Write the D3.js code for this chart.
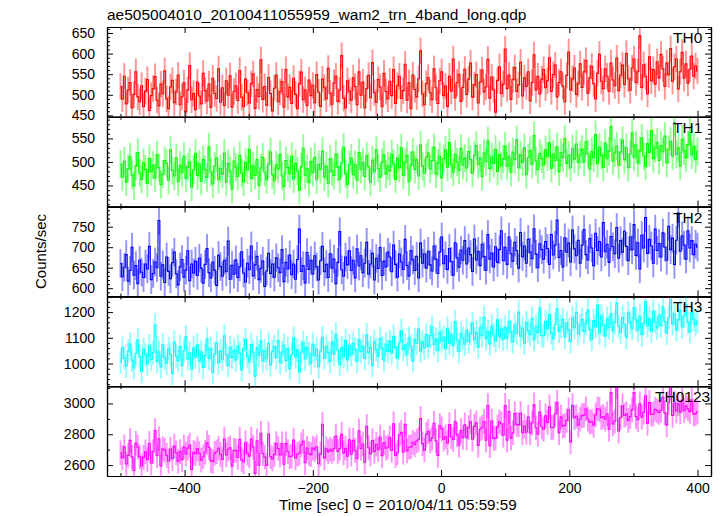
<!DOCTYPE html>
<html><head><meta charset="utf-8">
<script src="https://cdn.jsdelivr.net/npm/d3@7"></script>
<style>
body{margin:0;background:#fff}
svg{display:block}
text{font-family:"Liberation Sans",Arial,Helvetica,sans-serif;fill:#000}
</style>
</head><body>
<svg id="chart" width="723" height="516"></svg>
<script>
// ---------------- DATA ----------------
const chartTitle = "ae505004010_20100411055959_wam2_trn_4band_long.qdp";
const xAxisLabel = "Time [sec] 0 = 2010/04/11 05:59:59";
const yAxisLabel = "Counts/sec";
const bandNames = ["TH0", "TH1", "TH2", "TH3", "TH0123"];
const timeStart = -500;   // sec, first bin
const timeBin = 3;        // sec per bin

const th0 = [
520,490,545,478,512,530,468,501,556,495,483,522,471,509,537,462,498,515,544,487,
473,526,502,558,490,466,519,535,481,507,548,476,495,529,459,512,571,488,503,464,
531,497,478,552,510,485,526,469,540,503,491,563,482,517,474,534,499,546,470,508,
522,486,559,494,471,538,505,480,527,551,467,513,496,585,489,520,475,542,503,461,
516,548,483,507,532,470,561,495,518,479,540,501,466,527,555,488,512,474,536,498,
523,481,549,506,472,538,517,490,564,503,477,529,545,484,511,595,492,468,534,509,
487,541,520,476,556,499,531,468,515,547,493,578,505,482,537,519,471,552,508,490,
533,498,561,479,522,545,491,510,574,487,529,466,548,513,495,539,607,502,476,527,
542,505,488,563,517,479,534,556,498,521,472,545,509,587,493,530,550,484,518,562,
501,538,577,495,524,549,480,531,560,507,519,586,492,543,512,458,535,568,503,526,
611,515,548,489,537,566,508,524,579,497,541,520,556,485,530,597,512,545,502,538,
561,517,534,590,508,549,572,495,530,556,521,483,547,604,512,539,565,501,527,575,
518,556,583,504,541,569,527,490,552,598,533,515,563,545,508,577,536,522,589,510,
548,572,525,600,539,511,565,587,530,556,643,518,573,545,502,592,534,561,526,580,
541,598,563,520,577,549,612,533,568,587,514,556,603,540,575,528,562,594,545,570,
558];

const th1 = [
495,468,502,457,486,511,472,449,491,520,476,463,498,484,455,507,479,493,466,515,
488,452,474,503,497,461,526,482,470,509,458,493,477,512,465,489,500,446,483,518,
471,496,459,505,484,467,532,478,453,491,508,463,486,474,519,457,497,481,442,502,
489,469,514,476,458,499,483,527,465,492,471,505,450,487,510,478,462,496,521,473,
460,494,485,516,470,448,503,488,475,512,464,497,481,440,490,529,472,486,456,501,
477,510,462,495,484,523,468,491,454,506,480,471,517,489,463,498,531,475,452,494,
508,473,495,461,520,484,500,469,513,490,457,504,479,526,486,467,499,515,474,492,
481,517,496,463,508,487,530,472,499,514,458,493,521,484,505,470,536,491,476,510,
519,485,503,531,474,498,512,466,507,526,489,541,495,478,516,500,482,529,493,508,
487,522,505,476,514,535,494,508,469,519,501,545,486,511,497,527,480,515,492,506,
534,491,512,478,521,505,547,488,515,499,530,473,509,524,495,556,502,484,518,507,
493,526,511,541,486,517,503,532,479,520,509,549,497,514,488,528,506,538,499,515,
527,500,543,518,485,522,509,558,496,531,514,489,540,507,523,575,502,519,534,493,
521,546,505,530,488,517,562,510,536,498,524,551,513,491,539,520,567,507,529,542,
503,535,521,555,498,527,544,512,584,516,530,491,548,524,509,537,563,515,532,506,
522];

const th2 = [
660,628,651,682,617,643,700,632,655,611,668,639,626,659,647,702,621,636,664,650,
765,629,657,614,676,641,623,662,688,635,608,652,670,627,644,691,618,659,637,666,
631,673,649,612,658,697,638,625,664,644,607,680,653,629,668,640,715,622,656,634,
669,626,652,689,637,615,661,645,703,630,657,678,621,648,666,604,642,685,636,659,
627,674,650,638,694,616,663,647,681,633,659,622,670,744,641,655,613,687,646,668,
635,679,652,620,667,702,640,658,626,684,649,671,611,663,738,645,629,676,657,691,
643,668,625,696,654,679,638,661,712,634,659,685,620,673,648,699,631,666,652,688,
676,640,705,658,627,683,664,646,719,655,630,692,669,643,678,625,710,661,684,649,
690,657,642,703,671,636,688,725,660,679,646,697,665,632,711,674,651,693,668,716,
659,698,682,641,720,669,690,655,707,677,644,731,671,686,652,701,663,694,740,667,
700,658,725,684,666,712,692,649,736,677,703,661,719,688,672,745,683,650,708,694,
671,714,697,658,731,681,705,766,675,692,652,723,688,710,664,742,696,679,717,661,
705,743,682,669,721,698,655,734,692,714,676,760,689,707,663,726,701,684,748,673,
716,688,739,702,667,725,694,755,680,711,647,729,698,772,685,719,703,661,744,692,
709,676,735,700,668,751,694,722,658,717,783,690,728,705,671,740,698,716,682,707,
700];

const th3 = [
1005,1062,1021,990,1048,1076,1013,983,1039,1091,1027,970,1055,1034,998,1069,1016,1043,1150,1008,
1045,987,1073,1022,1001,1058,1036,962,1084,1029,1011,1066,993,1050,1104,1018,1041,978,1060,1025,
1072,1009,1046,985,1031,1095,1020,1057,966,1038,1080,1003,1049,1017,1108,1035,992,1063,1024,1052,
1014,1068,1040,975,1056,1093,1028,1006,1074,1044,951,1061,1032,1087,1010,1050,1019,1079,995,1047,
1066,1023,1089,1004,1042,1071,1012,1058,980,1035,1099,1026,1053,967,1045,1082,1018,1063,1037,1001,
1075,1030,1056,988,1048,1102,1021,1067,1043,1009,1084,1036,1115,1052,996,1061,1027,1090,1014,1070,
1033,1079,1055,1008,1093,1046,1068,1020,1112,1041,1063,992,1085,1054,1029,1097,1060,1013,1076,1047,
1088,1040,1106,1062,1023,1081,1127,1055,1072,1036,1099,1067,1010,1093,1078,1134,1049,1085,1061,1113,
1066,1109,1142,1074,1095,1050,1121,1088,1103,1058,1137,1080,1114,1069,1163,1092,1046,1118,1099,1075,
1130,1085,1117,1156,1093,1121,1064,1139,1108,1180,1097,1125,1076,1146,1112,1089,1170,1104,1133,1095,
1142,1098,1163,1124,1085,1151,1117,1200,1106,1137,1079,1159,1128,1112,1176,1093,1145,1121,1216,1108,
1108,1163,1135,1190,1119,1097,1152,1214,1126,1143,1171,1102,1158,1131,1086,1177,1140,1199,1115,1148,
1171,1125,1156,1208,1132,1094,1167,1143,1226,1119,1185,1151,1106,1174,1139,1193,1128,1160,1235,1145,
1122,1179,1153,1101,1196,1161,1137,1218,1169,1130,1184,1112,1157,1241,1146,1175,1126,1203,1163,1138,
1189,1147,1221,1164,1118,1178,1250,1155,1193,1131,1170,1207,1142,1185,1229,1160,1124,1198,1172,1151,
1165];

// typical 1-sigma error bar of each band (counts/sec)
const bandErrors = [32, 30, 35, 46, 80];

// axis ranges and tick values
const yRanges = [[446.6, 664.5], [405, 596], [580, 799], [912, 1261], [2529, 3112]];
const yLabelTicks = [[450, 500, 550, 600, 650], [450, 500, 550], [600, 650, 700, 750], [1000, 1100, 1200], [2600, 2800, 3000]];
const yMinorSteps = [10, 10, 10, 20, 100];
const xRange = [-521, 421];
const xLabelTicks = [-400, -200, 0, 200, 400];
const xMinorTicks = [-500, -300, -100, 100, 300];

// ---------------- STYLE / LAYOUT ----------------
const colors = ["#ff0000", "#00ff00", "#0000ff", "#00ffff", "#ff00ff"];
const plotLeft = 107, plotRight = 711, plotTop = 27, plotBottom = 476;
const labelX = [673, 673, 673, 673, 655];

// TH0123 is the sum of the four bands
const nBins = d3.min([th0, th1, th2, th3], a => a.length);
const th0123 = d3.range(nBins).map(i => th0[i] + th1[i] + th2[i] + th3[i]);
const bands = [th0, th1, th2, th3, th0123];

const svg = d3.select("#chart");
const x = d3.scaleLinear().domain(xRange).range([plotLeft, plotRight]);
const panelH = (plotBottom - plotTop) / bands.length;
const fmt = d3.format("d");
const binW = x(timeBin) - x(0);

svg.append("text").attr("x", 107).attr("y", 20).attr("font-size", 15.5).text(chartTitle);

bands.forEach((vals, p) => {
  const top = plotTop + p * panelH, bot = top + panelH;
  const y = d3.scaleLinear().domain(yRanges[p]).range([bot, top]);
  const g = svg.append("g");
  const clipId = "clip" + p;
  svg.append("clipPath").attr("id", clipId).append("rect")
    .attr("x", plotLeft).attr("y", top).attr("width", plotRight - plotLeft).attr("height", panelH);

  const pts = vals.slice(0, nBins).map((v, i) => ({t: timeStart + i * timeBin, v}));
  const err = bandErrors[p];
  const data = g.append("g").attr("clip-path", `url(#${clipId})`);
  // error bars
  data.append("g").selectAll("rect").data(pts).join("rect")
    .attr("x", d => x(d.t) - binW / 2).attr("width", binW)
    .attr("y", d => y(d.v + err)).attr("height", d => y(d.v - err) - y(d.v + err))
    .attr("fill", colors[p]).attr("fill-opacity", 0.42);
  // data line (step)
  data.append("path").datum(pts)
    .attr("d", d3.line().curve(d3.curveStep).x(d => x(d.t)).y(d => y(d.v)))
    .attr("fill", "none").attr("stroke", colors[p]).attr("stroke-width", 1.1);

  const minors = d3.range(Math.ceil(yRanges[p][0] / yMinorSteps[p]) * yMinorSteps[p], yRanges[p][1], yMinorSteps[p])
    .filter(v => !yLabelTicks[p].includes(v));

  const axes = [
    [d3.axisLeft(y).tickValues(yLabelTicks[p]).tickSize(-6).tickPadding(12).tickFormat(fmt), plotLeft, 0],
    [d3.axisLeft(y).tickValues(minors).tickSize(-3).tickFormat(""), plotLeft, 0],
    [d3.axisRight(y).tickValues(yLabelTicks[p]).tickSize(-6).tickFormat(""), plotRight, 0],
    [d3.axisRight(y).tickValues(minors).tickSize(-3).tickFormat(""), plotRight, 0],
    [d3.axisTop(x).tickValues(xLabelTicks).tickSize(-6).tickFormat(""), 0, top],
    [d3.axisTop(x).tickValues(xMinorTicks).tickSize(-3).tickFormat(""), 0, top],
    [d3.axisBottom(x).tickValues(xLabelTicks).tickSize(-6).tickPadding(7).tickFormat(p === bands.length - 1 ? fmt : ""), 0, bot],
    [d3.axisBottom(x).tickValues(xMinorTicks).tickSize(-3).tickFormat(""), 0, bot]
  ];
  axes.forEach(([ax, tx, ty]) => {
    const a = g.append("g").attr("transform", `translate(${tx},${ty})`).call(ax.tickSizeOuter(0));
    a.selectAll("text").attr("font-size", 14).attr("font-family", '"Liberation Sans",Arial,sans-serif').attr("fill", "#000");
    a.selectAll("line").attr("stroke", "#000");
    a.select(".domain").attr("stroke", "#000").attr("stroke-width", 1.2);
  });

  g.append("text").attr("x", labelX[p]).attr("y", top + 16).attr("font-size", 15.5).text(bandNames[p]);
});

svg.append("text").attr("x", 279).attr("y", 510).attr("font-size", 15.2).text(xAxisLabel);
svg.append("text").attr("transform", `translate(46,${(plotTop + plotBottom) / 2}) rotate(-90)`)
  .attr("text-anchor", "middle").attr("font-size", 15).text(yAxisLabel);
</script>
</body></html>
